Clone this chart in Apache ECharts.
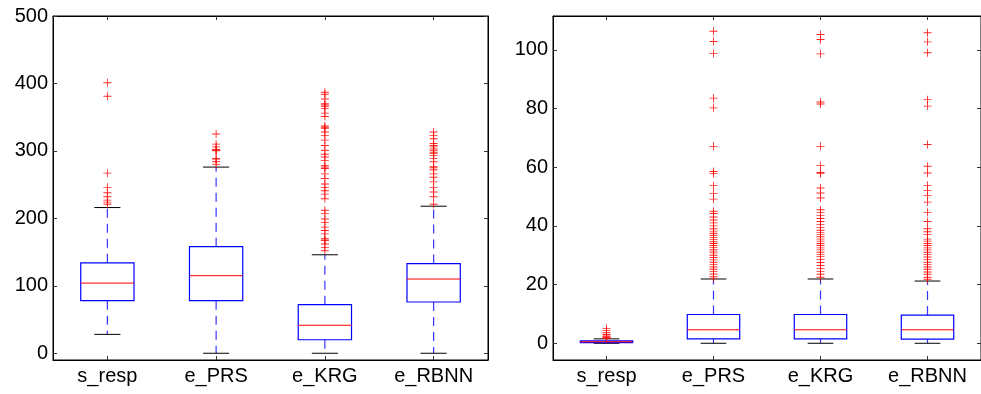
<!DOCTYPE html>
<html>
<head>
<meta charset="utf-8">
<script src="https://cdn.jsdelivr.net/npm/echarts@6/dist/echarts.min.js"></script>
<style>
html,body{margin:0;padding:0;background:#fff;}
#c{width:981px;height:394px;}
</style>
</head>
<body>
<div id="c"></div>
<script>
// ---- data ----
var categories = ['s_resp', 'e_PRS', 'e_KRG', 'e_RBNN'];

// left panel: [lowerWhisker, Q1, median, Q3, upperWhisker]
var leftStats = [
  [28, 78, 104, 134, 216],
  [0, 78, 115, 158, 276],
  [0, 20, 41.5, 72, 146],
  [0, 76, 110, 133, 218]
];
var leftOut_s_resp = [401, 381, 267, 246, 238, 232, 227, 224, 221];
var leftOut_e_PRS = [325, 310, 306, 302, 301, 300, 289, 288, 284, 280];
var leftOut_e_KRG = [387, 384, 377, 370, 368, 366, 363, 356, 351, 337, 335, 333, 328, 323, 316, 308, 301, 295, 291, 286, 278, 276, 274, 266, 259, 251, 246, 241, 236, 229, 212, 207, 199, 194, 187, 182, 177, 170, 168, 167, 162, 157, 152];
var leftOut_e_RBNN = [328, 323, 318, 311, 308, 306, 303, 301, 298, 296, 293, 289, 284, 277, 275, 272, 266, 261, 254, 246, 239, 232, 221];
var leftTicks = [0, 100, 200, 300, 400, 500];

// right panel
var rightStats = [
  [0, 0.2, 0.5, 0.8, 1.5],
  [0, 1.5, 4.6, 9.8, 21.9],
  [0, 1.5, 4.6, 9.8, 21.9],
  [0, 1.4, 4.6, 9.6, 21.2]
];
var rightOut_s_resp = [5.0, 4.3, 3.6, 3.0, 2.5, 2.2, 2.0, 1.8, 1.6];
var rightOut_e_PRS = [106.3, 102.8, 98.7, 83.5, 80.2, 67.1, 58.5, 57.8, 53.7, 51.0, 49.1, 45.0, 44.2, 43.0, 42.0, 41.0, 40.0, 39.0, 38.2, 37.5, 36.8, 36.0, 35.3, 34.6, 34.0, 33.3, 32.6, 32.0, 31.4, 30.8, 30.0, 29.2, 28.4, 27.6, 26.8, 26.0, 25.2, 24.4, 23.6, 22.8, 22.2];
var rightOut_e_KRG = [105.2, 103.5, 98.6, 82.2, 81.5, 67.1, 60.6, 58.2, 57.8, 52.9, 51.2, 49.5, 45.5, 44.5, 43.5, 42.5, 41.5, 40.5, 39.5, 38.5, 37.8, 37.0, 36.3, 35.5, 34.8, 34.0, 33.3, 32.5, 31.8, 31.0, 30.2, 29.5, 28.5, 27.5, 26.5, 25.5, 24.5, 23.5, 22.5];
var rightOut_e_RBNN = [105.8, 102.7, 99.0, 83.0, 80.8, 67.7, 60.3, 58.0, 53.8, 52.0, 50.3, 48.1, 44.6, 41.5, 39.0, 38.0, 37.0, 35.5, 34.8, 34.0, 33.3, 32.5, 31.8, 31.0, 30.2, 29.4, 28.5, 27.6, 26.8, 26.0, 25.2, 24.3, 23.5, 22.5, 21.8];
var rightTicks = [0, 20, 40, 60, 80, 100];

// ---- build ----
function boxData(stats) {
  return stats.map(function (s, i) { return [i].concat(s); });
}
function outData(lists) {
  var out = [];
  lists.forEach(function (l, i) { l.forEach(function (v) { out.push([i, v]); }); });
  return out;
}
var FONT = 'Liberation Sans, Arial, sans-serif';
var PLUS = 'path://M0,4.45H10V5.55H0Z M4.45,0H5.55V10H4.45Z';

function renderBox(params, api) {
  var x = api.value(0);
  var band = api.size([1, 0])[0];
  var hw = band * 0.245, cw = band * 0.12;
  var pMin = api.coord([x, api.value(1)]);
  var pQ1 = api.coord([x, api.value(2)]);
  var pMed = api.coord([x, api.value(3)]);
  var pQ3 = api.coord([x, api.value(4)]);
  var pMax = api.coord([x, api.value(5)]);
  var cx = pMed[0];
  var dash = {stroke: '#3535ff', lineWidth: 1.2, lineDash: [9, 6]};
  return {
    type: 'group',
    children: [
      {type: 'line', shape: {x1: cx, y1: pQ3[1], x2: cx, y2: pMax[1]}, style: dash},
      {type: 'line', shape: {x1: cx, y1: pQ1[1], x2: cx, y2: pMin[1]}, style: dash},
      {type: 'line', shape: {x1: cx - cw, y1: pMax[1], x2: cx + cw, y2: pMax[1]}, style: {stroke: '#000', lineWidth: 1}},
      {type: 'line', shape: {x1: cx - cw, y1: pMin[1], x2: cx + cw, y2: pMin[1]}, style: {stroke: '#000', lineWidth: 1}},
      {type: 'rect', shape: {x: cx - hw, y: pQ3[1], width: 2 * hw, height: pQ1[1] - pQ3[1]}, style: {fill: 'none', stroke: '#0000ff', lineWidth: 1.2}},
      {type: 'line', shape: {x1: cx - hw, y1: pMed[1], x2: cx + hw, y2: pMed[1]}, style: {stroke: '#ff0000', lineWidth: 1}}
    ]
  };
}

var grids = [
  {left: 53, top: 16, width: 435, height: 344, show: true, borderColor: '#000', borderWidth: 1, backgroundColor: '#fff'},
  {left: 553, top: 16, width: 435, height: 344, show: true, borderColor: '#000', borderWidth: 1, backgroundColor: '#fff'}
];

function xAx(gi, pos, showLabel) {
  return {
    type: 'category', gridIndex: gi, position: pos, data: categories,
    boundaryGap: true,
    axisLine: {show: true, onZero: false, lineStyle: {color: '#000', width: 1}},
    axisTick: {show: true, inside: true, alignWithLabel: true, length: 4, lineStyle: {color: '#333'}},
    axisLabel: {show: showLabel, color: '#000', fontFamily: FONT, fontSize: 20, margin: 6},
    splitLine: {show: false}
  };
}
function yAx(gi, pos, min, max, ticks, showLabel) {
  return {
    type: 'value', gridIndex: gi, position: pos, min: min, max: max,
    axisLine: {show: true, onZero: false, lineStyle: {color: '#000', width: 1}},
    axisTick: {show: true, inside: true, length: 4, customValues: ticks, lineStyle: {color: '#333'}},
    axisLabel: {show: showLabel, customValues: ticks, color: '#000', fontFamily: FONT, fontSize: 20, margin: 5},
    splitLine: {show: false}
  };
}

var option = {
  animation: false,
  backgroundColor: '#fff',
  grid: grids,
  xAxis: [xAx(0, 'bottom', true), xAx(0, 'top', false), xAx(1, 'bottom', true), xAx(1, 'top', false)],
  yAxis: [yAx(0, 'left', -10, 500, leftTicks, true), yAx(0, 'right', -10, 500, leftTicks, false),
          yAx(1, 'left', -5.7, 111.5, rightTicks, true), yAx(1, 'right', -5.7, 111.5, rightTicks, false)],
  series: [
    {type: 'custom', xAxisIndex: 0, yAxisIndex: 0, renderItem: renderBox, data: boxData(leftStats), z: 2},
    {type: 'scatter', xAxisIndex: 0, yAxisIndex: 0, symbol: PLUS, symbolSize: 8,
     itemStyle: {color: '#ff0000', opacity: 0.85}, data: outData([leftOut_s_resp, leftOut_e_PRS, leftOut_e_KRG, leftOut_e_RBNN]), z: 3},
    {type: 'custom', xAxisIndex: 2, yAxisIndex: 2, renderItem: renderBox, data: boxData(rightStats), z: 2},
    {type: 'scatter', xAxisIndex: 2, yAxisIndex: 2, symbol: PLUS, symbolSize: 8,
     itemStyle: {color: '#ff0000', opacity: 0.85}, data: outData([rightOut_s_resp, rightOut_e_PRS, rightOut_e_KRG, rightOut_e_RBNN]), z: 3}
  ]
};
var chart = echarts.init(document.getElementById('c'), null, {renderer: 'canvas'});
chart.setOption(option);
</script>
</body>
</html>
